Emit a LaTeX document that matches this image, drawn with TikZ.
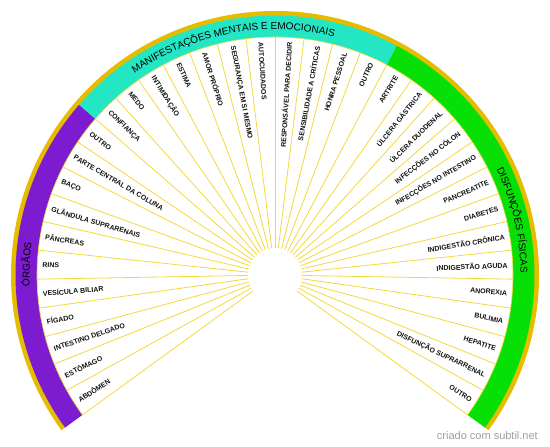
\documentclass[tikz,border=0pt]{standalone}
\usepackage{fontspec}
\setmainfont{Liberation Sans}
\usetikzlibrary{decorations.text}
\definecolor{wheelOrgans}{HTML}{7D1BD0}
\definecolor{wheelMind}{HTML}{22E6C4}
\definecolor{wheelBody}{HTML}{06E006}
\definecolor{wheelRim}{HTML}{E6BC00}
\definecolor{wheelSpoke}{HTML}{F3D83A}
\definecolor{wheelText}{HTML}{111111}

\begin{document}
\begin{tikzpicture}[
    x=1pt,y=1pt,
    every node/.style={font=\bfseries\fontsize{7}{8}\selectfont,text=wheelText,inner sep=0pt},
    leftlabel/.style={anchor=west},
    rightlabel/.style={anchor=east},
    spoke/.style={draw=wheelSpoke,line width=0.8pt},
    bandtext/.style={decorate,decoration={text along path,text align=center,text={|\fontsize{10}{12}\selectfont|#1}}}
]
\useasboundingbox (-275,-172) rectangle (275,275);

% rim and the three bands
\fill[wheelRim] (-36:264) arc[start angle=-36,end angle=216,radius=264] -- (216:259) arc[start angle=216,end angle=-36,radius=259] -- cycle;
\fill[wheelOrgans] (216:238) arc[start angle=216,end angle=139,radius=238] -- (139:259.5) arc[start angle=139,end angle=216,radius=259.5] -- cycle;
\fill[wheelMind] (139:238) arc[start angle=139,end angle=62,radius=238] -- (62:259.5) arc[start angle=62,end angle=139,radius=259.5] -- cycle;
\fill[wheelBody] (62:238) arc[start angle=62,end angle=-36,radius=238] -- (-36:259.5) arc[start angle=-36,end angle=62,radius=259.5] -- cycle;
\draw[spoke,line width=0.6pt] (216:238) arc[start angle=216,end angle=-36,radius=238];

\path[bandtext={ÓRGÃOS}] (216:245.5) arc[start angle=216,end angle=139,radius=245.5];
\path[bandtext={MANIFESTAÇÕES MENTAIS E EMOCIONAIS}] (139:245.5) arc[start angle=139,end angle=62,radius=245.5];
\path[bandtext={DISFUNÇÕES FÍSICAS}] (62:245.5) arc[start angle=62,end angle=-36,radius=245.5];

% spokes
\foreach \k in {0,...,36}
  \draw[spoke] ({216-7*\k}:27) -- ({216-7*\k}:238);

% orgaos
\node[leftlabel,rotate=32.5] (abdomen) at (212.5:233) {ABDÔMEN};
\node[leftlabel,rotate=25.5] (estomago) at (205.5:233) {ESTÔMAGO};
\node[leftlabel,rotate=18.5] (intestino) at (198.5:233) {INTESTINO DELGADO};
\node[leftlabel,rotate=11.5] (figado) at (191.5:233) {FÍGADO};
\node[leftlabel,rotate=4.5] (vesicula) at (184.5:233) {VESÍCULA BILIAR};
\node[leftlabel,rotate=-2.5] (rins) at (177.5:233) {RINS};
\node[leftlabel,rotate=-9.5] (pancreas) at (170.5:233) {PÂNCREAS};
\node[leftlabel,rotate=-16.5] (glandula) at (163.5:233) {GLÂNDULA SUPRARENAIS};
\node[leftlabel,rotate=-23.5] (baco) at (156.5:233) {BAÇO};
\node[leftlabel,rotate=-30.5] (coluna) at (149.5:233) {PARTE CENTRAL DA COLUNA};
\node[leftlabel,rotate=-37.5] (outroorg) at (142.5:233) {OUTRO};

% manifestacoes
\node[leftlabel,rotate=-44.5] (confianca) at (135.5:233) {CONFIANÇA};
\node[leftlabel,rotate=-51.5] (medo) at (128.5:233) {MEDO};
\node[leftlabel,rotate=-58.5] (intimidacao) at (121.5:233) {INTIMIDAÇÃO};
\node[leftlabel,rotate=-65.5] (estima) at (114.5:233) {ESTIMA};
\node[leftlabel,rotate=-72.5] (amor) at (107.5:233) {AMOR PRÓPRIO};
\node[leftlabel,rotate=-79.5] (seguranca) at (100.5:233) {SEGURANÇA EM SI MESMO};
\node[leftlabel,rotate=-86.5] (autocuidados) at (93.5:233) {AUTOCUIDADOS};
\node[rightlabel,rotate=86.5] (decidir) at (86.5:233) {RESPONSÁVEL PARA DECIDIR};
\node[rightlabel,rotate=79.5] (criticas) at (79.5:233) {SENSIBILIDADE A CRÍTICAS};
\node[rightlabel,rotate=72.5] (honra) at (72.5:233) {HONRA PESSOAL};
\node[rightlabel,rotate=65.5] (outromen) at (65.5:233) {OUTRO};

% disfuncoes
\node[rightlabel,rotate=58.5] (artrite) at (58.5:233) {ARTRITE};
\node[rightlabel,rotate=51.5] (gastrica) at (51.5:233) {ÚLCERA GÁSTRICA};
\node[rightlabel,rotate=44.5] (duodenal) at (44.5:233) {ÚLCERA DUODENAL};
\node[rightlabel,rotate=37.5] (colon) at (37.5:233) {INFECÇÕES NO CÓLON};
\node[rightlabel,rotate=30.5] (infintestino) at (30.5:233) {INFECÇÕES NO INTESTINO};
\node[rightlabel,rotate=23.5] (pancreatite) at (23.5:233) {PANCREATITE};
\node[rightlabel,rotate=16.5] (diabetes) at (16.5:233) {DIABETES};
\node[rightlabel,rotate=9.5] (cronica) at (9.5:233) {INDIGESTÃO CRÔNICA};
\node[rightlabel,rotate=2.5] (aguda) at (2.5:233) {INDIGESTÃO AGUDA};
\node[rightlabel,rotate=-4.5] (anorexia) at (-4.5:233) {ANOREXIA};
\node[rightlabel,rotate=-11.5] (bulimia) at (-11.5:233) {BULIMIA};
\node[rightlabel,rotate=-18.5] (hepatite) at (-18.5:233) {HEPATITE};
\node[rightlabel,rotate=-25.5] (suprarrenal) at (-25.5:233) {DISFUNÇÃO SUPRARRENAL};
\node[rightlabel,rotate=-32.5] (outrodis) at (-32.5:233) {OUTRO};

\node[anchor=base east,font=\fontsize{11}{13}\selectfont,text=black!38] (credit) at (263,-165) {criado com subtil.net};
\end{tikzpicture}
\end{document}
